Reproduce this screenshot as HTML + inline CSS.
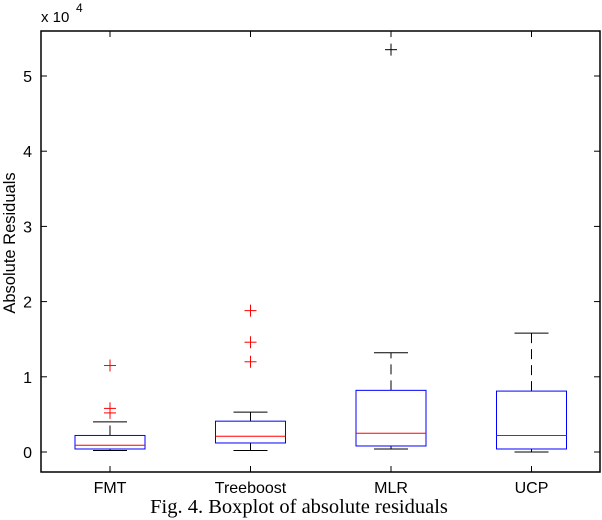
<!DOCTYPE html>
<html><head><meta charset="utf-8"><style>body{margin:0;background:#fff}svg{display:block}</style></head>
<body>
<svg id="chart" width="602" height="520" xmlns="http://www.w3.org/2000/svg" font-family="Liberation Sans, sans-serif"></svg>
<script>
const categories=["FMT","Treeboost","MLR","UCP"];
const q1s=[0.04,0.12,0.08,0.04];
const medians=[0.09,0.21,0.25,0.22];
const q3s=[0.22,0.41,0.82,0.81];
const whiskLo=[0.02,0.02,0.04,0.0];
const whiskHi=[0.40,0.53,1.32,1.58];
const outliers=[[1.15,0.58,0.52],[1.88,1.46,1.2],[5.35],[]];
const yTicks=[0,1,2,3,4,5];
const svg=document.getElementById('chart');
const L=41,R=600,T=31,B=472;
const y=v=>452-v*75.2;
const x=i=>110+i*140.5;
function el(t,a,p){const e=document.createElementNS('http://www.w3.org/2000/svg',t);for(const k in a)e.setAttribute(k,a[k]);(p||svg).appendChild(e);return e;}
const frame=el('rect',{x:L,y:T,width:R-L,height:B-T,fill:'none',stroke:'#000','stroke-width':1.5});


yTicks.forEach(v=>{
 el('line',{x1:L,x2:L+6,y1:y(v),y2:y(v),stroke:'#000'});
 el('line',{x1:R-6,x2:R,y1:y(v),y2:y(v),stroke:'#000'});
 const t=el('text',{x:L-9,y:y(v)+6,'text-anchor':'end','font-size':16});t.textContent=v;
 
 
});
const ex=el('text',{x:41,y:22,'font-size':15});ex.textContent='x 10';


const ex2=el('text',{x:76,y:12,'font-size':12});ex2.textContent='4';
const yl=el('text',{transform:'translate(15,243) rotate(-90)','text-anchor':'middle','font-size':16.5});yl.textContent='Absolute Residuals';


categories.forEach((c,i)=>{
 const cx=x(i);
 el('line',{x1:cx,x2:cx,y1:B,y2:B-6,stroke:'#000'});
 el('line',{x1:cx,x2:cx,y1:T,y2:T+6,stroke:'#000'});
 const t=el('text',{x:cx,y:493,'text-anchor':'middle','font-size':16});t.textContent=c;
 
 
 const g=el('g',{});
 
 
 el('line',{x1:cx,x2:cx,y1:y(q3s[i]),y2:y(whiskHi[i]),stroke:'#000','stroke-dasharray':'10,6'},g);
 el('line',{x1:cx,x2:cx,y1:y(q1s[i]),y2:y(whiskLo[i]),stroke:'#000','stroke-dasharray':'10,6'},g);
 el('line',{x1:cx-17,x2:cx+17,y1:y(whiskHi[i]),y2:y(whiskHi[i]),stroke:'#000'},g);
 el('line',{x1:cx-17,x2:cx+17,y1:y(whiskLo[i]),y2:y(whiskLo[i]),stroke:'#000'},g);
 el('rect',{x:cx-35,y:y(q3s[i]),width:70,height:y(q1s[i])-y(q3s[i]),fill:'#fff',stroke:'#00f'},g);
 el('line',{x1:cx-35,x2:cx+35,y1:y(medians[i]),y2:y(medians[i]),stroke:'#f00'},g);
 outliers[i].forEach(o=>{
  const col=o>5?'#000':'#f00';
  el('line',{x1:cx-6,x2:cx+6,y1:y(o),y2:y(o),stroke:col},g);
  el('line',{x1:cx,x2:cx,y1:y(o)-6,y2:y(o)+6,stroke:col},g);
 });
});
const cap=el('text',{x:299,y:513,'text-anchor':'middle','font-size':20.5,'font-family':'Liberation Serif, serif'});cap.textContent='Fig. 4. Boxplot of absolute residuals';


</script>
</body></html>
